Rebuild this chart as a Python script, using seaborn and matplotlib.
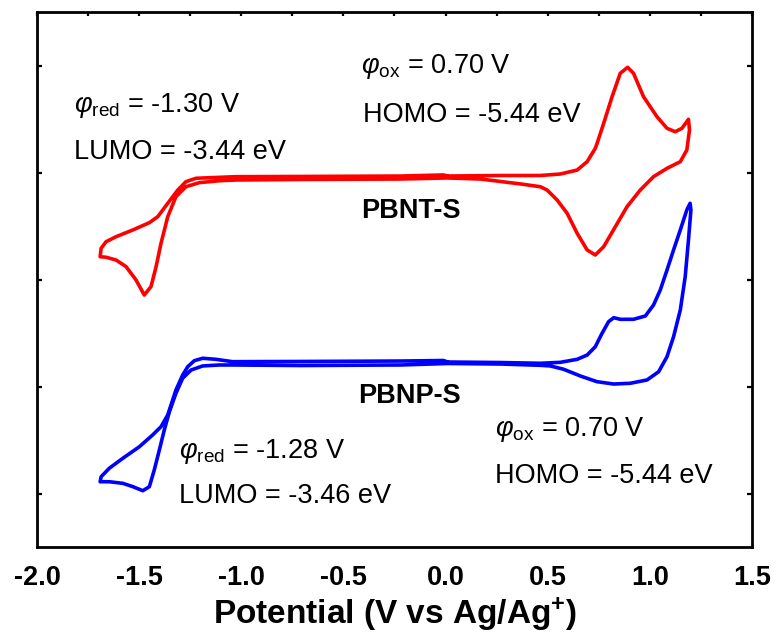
import numpy as np
import pandas as pd
import matplotlib
matplotlib.use("Agg")
import matplotlib.pyplot as plt
import seaborn as sns

# Cyclic voltammograms (potential in V vs Ag/Ag+, current offset in arbitrary units)
pbnt_E = [0.010, 0.269, 0.464, 0.562, 0.644, 0.693, 0.733, 0.743, 0.774, 0.815, 0.855,
          0.891, 0.920, 0.969, 1.035, 1.084, 1.124, 1.157, 1.189, 1.194, 1.181,
          1.149, 1.084, 1.018, 0.953, 0.888, 0.831, 0.774, 0.733, 0.693, 0.644,
          0.595, 0.546, 0.497, 0.464, 0.367, 0.171, 0.010, -0.220, -0.709, -1.026,
          -1.108, -1.206, -1.271, -1.320, -1.360, -1.393, -1.417, -1.442, -1.475, -1.515,
          -1.564, -1.613, -1.662, -1.691, -1.686, -1.662, -1.613, -1.531, -1.450, -1.409,
          -1.360, -1.311, -1.271, -1.222, -1.026, -0.709, -0.220, -0.010, 0.010]
pbnt_I = [3.467, 3.472, 3.472, 3.486, 3.523, 3.601, 3.726, 3.780, 3.960, 4.208, 4.427,
          4.483, 4.427, 4.208, 4.021, 3.913, 3.881, 3.913, 3.997, 3.897, 3.710,
          3.601, 3.539, 3.461, 3.336, 3.180, 2.993, 2.807, 2.729, 2.776, 2.932,
          3.119, 3.243, 3.336, 3.367, 3.393, 3.439, 3.449, 3.439, 3.435, 3.430,
          3.423, 3.405, 3.367, 3.274, 3.087, 2.838, 2.620, 2.433, 2.355, 2.495,
          2.620, 2.682, 2.708, 2.713, 2.792, 2.853, 2.900, 2.963, 3.031, 3.087,
          3.212, 3.336, 3.414, 3.446, 3.461, 3.463, 3.467, 3.477, 3.467]

pbnp_E = [0.010, 0.269, 0.464, 0.562, 0.644, 0.693, 0.733, 0.766, 0.798, 0.823,
          0.855, 0.920, 0.978, 1.018, 1.051, 1.084, 1.116, 1.149, 1.181, 1.197,
          1.201, 1.189, 1.173, 1.149, 1.116, 1.084, 1.043, 0.986, 0.904, 0.823,
          0.741, 0.660, 0.578, 0.513, 0.464, 0.269, 0.010, -0.220, -0.709, -1.043,
          -1.108, -1.189, -1.246, -1.287, -1.320, -1.352, -1.377, -1.401, -1.426, -1.450,
          -1.482, -1.531, -1.580, -1.646, -1.691, -1.686, -1.646, -1.580, -1.499, -1.434,
          -1.393, -1.360, -1.344, -1.320, -1.287, -1.262, -1.230, -1.189, -1.124, -1.043,
          -0.709, -0.220, -0.010, 0.010]
pbnp_I = [1.729, 1.724, 1.717, 1.726, 1.754, 1.794, 1.872, 1.997, 2.106, 2.143,
          2.128, 2.128, 2.159, 2.262, 2.402, 2.589, 2.776, 2.963, 3.150, 3.212,
          3.150, 2.869, 2.526, 2.215, 1.965, 1.779, 1.638, 1.561, 1.530, 1.523,
          1.545, 1.598, 1.661, 1.692, 1.698, 1.710, 1.715, 1.701, 1.696, 1.701,
          1.701, 1.692, 1.654, 1.577, 1.436, 1.264, 1.093, 0.907, 0.720, 0.564,
          0.526, 0.564, 0.595, 0.610, 0.610, 0.657, 0.736, 0.829, 0.937, 1.047,
          1.124, 1.234, 1.327, 1.467, 1.607, 1.685, 1.741, 1.764, 1.754, 1.732,
          1.734, 1.738, 1.743, 1.729]

x_major = [-2.0, -1.5, -1.0, -0.5, 0.0, 0.5, 1.0, 1.5]
x_labels = ["-2.0", "-1.5", "-1.0", "-0.5", "0.0", "0.5", "1.0", "1.5"]
y_ticks = [0.5, 1.5, 2.5, 3.5, 4.5]

sns.set_style("white")
plt.rcParams["font.family"] = ["Liberation Sans", "DejaVu Sans"]
plt.rcParams["mathtext.fontset"] = "custom"
plt.rcParams["mathtext.rm"] = "Liberation Sans"
plt.rcParams["mathtext.it"] = "Liberation Sans:italic"
plt.rcParams["mathtext.bf"] = "Liberation Sans:bold"
plt.rcParams["text.color"] = "black"
plt.rcParams["axes.labelcolor"] = "black"
plt.rcParams["xtick.color"] = "black"
plt.rcParams["ytick.color"] = "black"

fig = plt.figure(figsize=(7.77, 6.34), dpi=100)
ax = fig.add_axes([37 / 777, 87 / 634, 715 / 777, 535 / 634])

df_t = pd.DataFrame({"E": pbnt_E, "I": pbnt_I})
df_p = pd.DataFrame({"E": pbnp_E, "I": pbnp_I})
sns.lineplot(data=df_t, x="E", y="I", sort=False, estimator=None,
             color="#ff0000", linewidth=2.6, ax=ax)
sns.lineplot(data=df_p, x="E", y="I", sort=False, estimator=None,
             color="#0000ff", linewidth=2.6, ax=ax)
for ln in ax.lines:
    ln.set_solid_joinstyle("round")
    ln.set_solid_capstyle("round")

ax.set_xlim(-2.0, 1.5)
ax.set_ylim(0, 5)

ax.set_xticks(x_major)
ax.set_xticklabels(x_labels, fontweight="bold", fontsize=19.5, color="black")
ax.set_xticks(np.arange(-1.75, 1.5, 0.5), minor=True)
ax.tick_params(axis="x", which="major", direction="out", length=8, width=1.8,
               pad=5, color="black", labelcolor="black")
ax.tick_params(axis="x", which="minor", direction="out", length=4, width=1.8,
               color="black")

ax.set_yticks(y_ticks)
ax.set_yticklabels([])
ax.tick_params(axis="y", which="both", direction="in", length=3.5, width=1.6,
               left=True, right=True, labelleft=False, color="black")

top = ax.secondary_xaxis("top")
top.set_xticks(np.arange(-2.0, 1.51, 0.25))
top.tick_params(direction="in", length=3, width=1.6, labeltop=False, color="black")
top.spines["top"].set_visible(False)

for s in ax.spines.values():
    s.set_visible(True)
    s.set_linewidth(2.0)
    s.set_color("black")

ax.set_xlabel(r"Potential (V vs Ag/Ag$^{\mathbf{+}}$)", fontsize=24,
              fontweight="bold", labelpad=3, color="black")
ax.set_ylabel("")

fs = 19.5
kw = dict(fontsize=fs, va="baseline", color="black")
ax.text(-1.818, 4.065, r"$\varphi_{\mathrm{red}}$ = -1.30 V", **kw)
ax.text(-1.818, 3.626, "LUMO = -3.44 eV", **kw)
ax.text(-0.415, 4.43, r"$\varphi_{\mathrm{ox}}$ = 0.70 V", **kw)
ax.text(-0.406, 3.972, "HOMO = -5.44 eV", **kw)
ax.text(-0.415, 3.075, "PBNT-S", fontweight="bold", **kw)
ax.text(-0.430, 1.346, "PBNP-S", fontweight="bold", **kw)
ax.text(-1.305, 0.832, r"$\varphi_{\mathrm{red}}$ = -1.28 V", **kw)
ax.text(-1.305, 0.411, "LUMO = -3.46 eV", **kw)
ax.text(0.244, 1.037, r"$\varphi_{\mathrm{ox}}$ = 0.70 V", **kw)
ax.text(0.244, 0.598, "HOMO = -5.44 eV", **kw)

fig.savefig("out.png", dpi=100)
